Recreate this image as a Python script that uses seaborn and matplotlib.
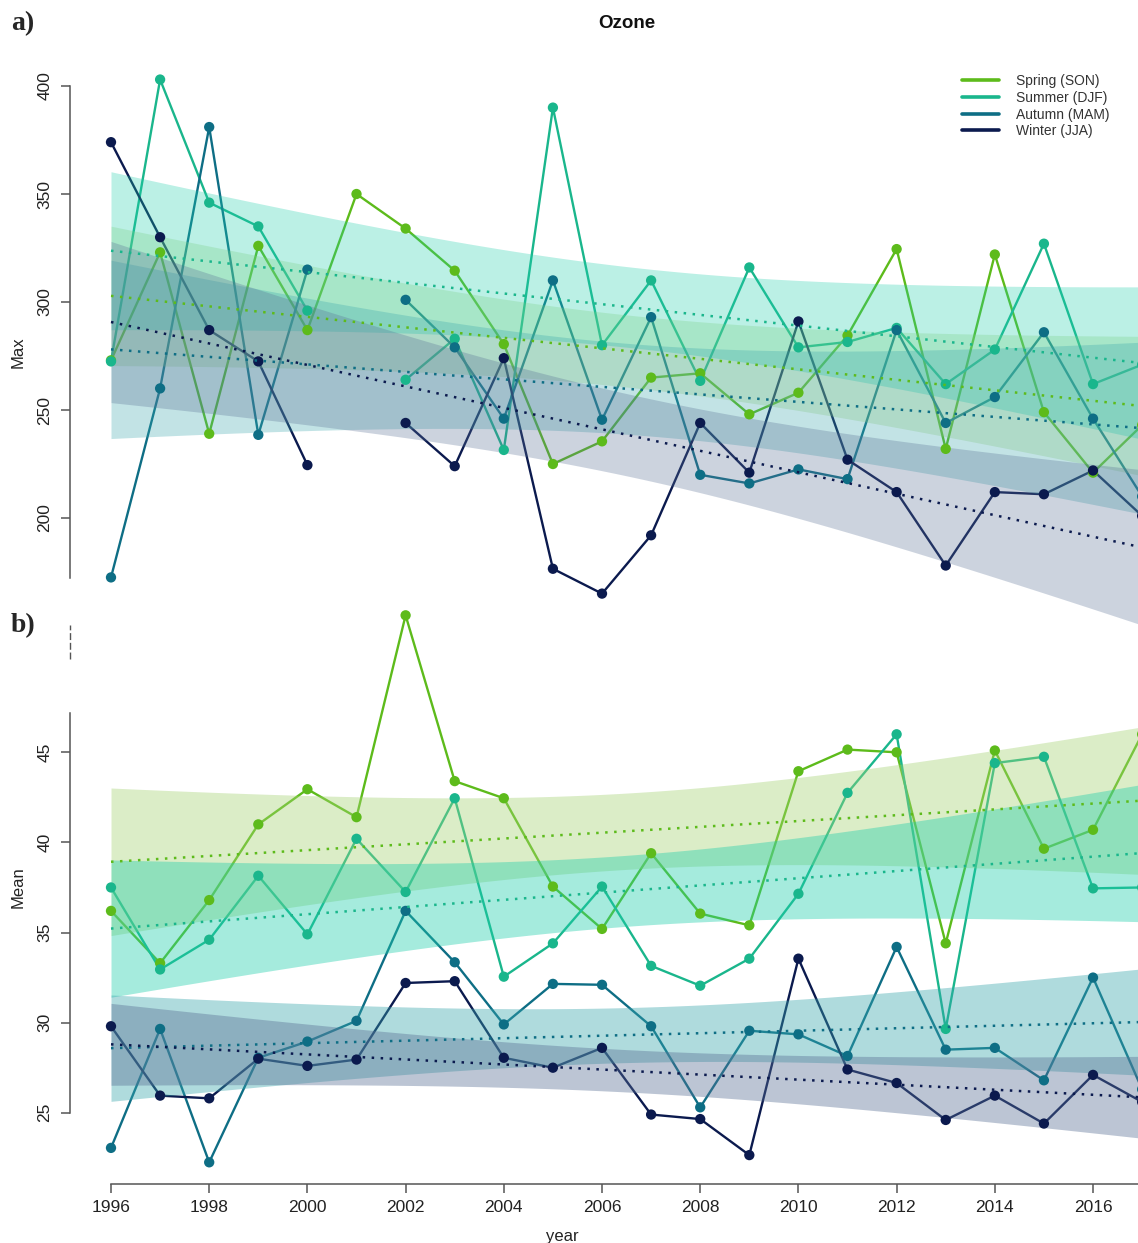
import numpy as np
import pandas as pd
import matplotlib
matplotlib.use("Agg")
import matplotlib.pyplot as plt
from matplotlib.lines import Line2D
import seaborn as sns

nan = np.nan

# ---- data -------------------------------------------------------------
years = list(range(1996, 2018))
seasons = ["Spring (SON)", "Summer (DJF)", "Autumn (MAM)", "Winter (JJA)"]

max_spring = [273, 323, 239, 326, 287, 350, 334, 314.5, 280.5, 225, 235.5,
              265, 267, 248, 258, 284.5, 324.5, 232, 322, 249, 221, 243]
max_summer = [272.5, 403, 346, 335, 296, nan, 264, 283, 231.5, 390, 280,
              310, 263.5, 316, 279, 281.5, 288, 262, 278, 327, 262, 271]
max_autumn = [172.5, 260, 381, 238.5, 315, nan, 301, 279, 246, 310, 245.5,
              293, 220, 216, 222.5, 218, 287, 244, 256, 286, 246, 210]
max_winter = [374, 330, 287, 272.5, 224.5, nan, 244, 224, 274, 176.5, 165,
              192, 244, 221, 291, 227, 212, 178, 212, 211, 222, 201]

mean_spring = [36.2, 33.3, 36.8, 41.0, 42.95, 41.4, 52.6, 43.4, 42.45, 37.55, 35.2,
               39.4, 36.05, 35.4, 43.95, 45.15, 45.0, 34.4, 45.1, 39.65, 40.7, 46.0]
mean_summer = [37.5, 32.95, 34.6, 38.15, 34.9, 40.2, 37.25, 42.45, 32.55, 34.4, 37.55,
               33.15, 32.05, 33.55, 37.15, 42.75, 46.0, 29.65, 44.4, 44.75, 37.45, 37.5]
mean_autumn = [23.05, 29.65, 22.25, 28.05, 28.95, 30.1, 36.2, 33.35, 29.9, 32.15, 32.1,
               29.8, 25.3, 29.55, 29.35, 28.15, 34.2, 28.5, 28.6, 26.8, 32.5, 26.3]
mean_winter = [29.8, 25.95, 25.8, 28.0, 27.6, 27.95, 32.2, 32.3, 28.05, 27.5, 28.6,
               24.9, 24.65, 22.65, 33.55, 27.4, 26.65, 24.6, 25.95, 24.4, 27.1, 25.6]

x_ticks = list(range(1996, 2017, 2))
max_ticks = [200, 250, 300, 350, 400]
mean_ticks = [25, 30, 35, 40, 45]

# ---- styling ----------------------------------------------------------
line_colors = {"Spring (SON)": "#5DBB1B", "Summer (DJF)": "#1AB68C",
               "Autumn (MAM)": "#0E6E85", "Winter (JJA)": "#0B1A4E"}
band_colors = {"Spring (SON)": "#A5D275", "Summer (DJF)": "#1ECEAA",
               "Autumn (MAM)": "#37A5AC", "Winter (JJA)": "#586F94"}
T95 = {17: 2.110, 18: 2.101, 19: 2.093, 20: 2.086}

sns.set_theme(style="ticks")
plt.rcParams["font.family"] = ["Liberation Sans", "DejaVu Sans"]

W, H = 1138, 1243
fig = plt.figure(figsize=(W / 100, H / 100), dpi=100)


def long_frame(series):
    rows = []
    for season, vals in zip(seasons, series):
        run = 0
        for yr, v in zip(years, vals):
            if np.isnan(v):
                run += 1
                continue
            rows.append({"year": yr, "season": season, "value": v,
                         "run": f"{season}-{run}"})
    return pd.DataFrame(rows)


def draw_panel(ax, df, band_alpha):
    # observed series: lines, then trend bands, then points on top
    sns.lineplot(data=df, x="year", y="value", hue="season", units="run",
                 estimator=None, palette=line_colors, hue_order=seasons,
                 linewidth=1.7, legend=False, ax=ax, zorder=2)
    xs = np.linspace(1996, 2017, 300)
    for season in seasons:
        sub = df[df["season"] == season]
        x = sub["year"].to_numpy(float)
        y = sub["value"].to_numpy(float)
        n = len(x)
        b, a = np.polyfit(x, y, 1)
        resid = y - (a + b * x)
        s = np.sqrt(np.sum(resid ** 2) / (n - 2))
        xbar = x.mean()
        sxx = np.sum((x - xbar) ** 2)
        fit = a + b * xs
        half = T95[n - 2] * s * np.sqrt(1 / n + (xs - xbar) ** 2 / sxx)
        ax.fill_between(xs, fit - half, fit + half, color=band_colors[season],
                        alpha=band_alpha, linewidth=0, zorder=3)
        ax.plot(xs, fit, color=line_colors[season], linewidth=1.8,
                dashes=(1.0, 2.6), zorder=5)
    sns.scatterplot(data=df, x="year", y="value", hue="season",
                    palette=line_colors, hue_order=seasons, s=55, linewidth=0,
                    legend=False, ax=ax, zorder=4)


# ---- panel a : Max ----------------------------------------------------
xlim = (1995.165, 2016.916)
ax1 = fig.add_axes([70 / W, 1 - 640 / H, 1068 / W, 600 / H])
ax1.patch.set_alpha(0)
draw_panel(ax1, long_frame([max_spring, max_summer, max_autumn, max_winter]), 0.30)
ax1.set_xlim(*xlim)
ax1.set_ylim(143.52, 421.3)
ax1.set_yticks(max_ticks)
ax1.set_xticks([])
for sp in ["top", "right", "bottom"]:
    ax1.spines[sp].set_visible(False)
ax1.spines["left"].set_bounds(172.4, 400)

# ---- panel b : Mean ---------------------------------------------------
ax2 = fig.add_axes([70 / W, 1 - 1184.3 / H, 1068 / W, 584.3 / H])
ax2.patch.set_alpha(0)
draw_panel(ax2, long_frame([mean_spring, mean_summer, mean_autumn, mean_winter]), 0.40)
ax2.set_xlim(*xlim)
ax2.set_ylim(21.03, 53.45)
ax2.set_yticks(mean_ticks)
ax2.set_xticks(x_ticks)
for sp in ["top", "right"]:
    ax2.spines[sp].set_visible(False)
ax2.spines["left"].set_bounds(25, 47.18)
ax2.spines["bottom"].set_bounds(1996, 2017.84)
# short dashed piece of the axis above the break
ax2.plot([xlim[0], xlim[0]], [50.18, 52.06], color="#555555", linewidth=1.0,
         dashes=(5, 2), clip_on=False, zorder=6)

for ax in (ax1, ax2):
    ax.set_xlabel("")
    ax.set_ylabel("")
    for sp in ax.spines.values():
        sp.set_color("#555555")
        sp.set_linewidth(1.1)
    ax.tick_params(axis="both", direction="out", length=6.2, width=1.1,
                   color="#555555", labelsize=12.5, labelcolor="#222222")
    ax.tick_params(axis="y", pad=6.5)
    ax.tick_params(axis="x", pad=5)
    for lab in ax.get_yticklabels():
        lab.set_rotation(90)
        lab.set_va("center")

# ---- text -------------------------------------------------------------
fig.text(627 / W, 1 - 23 / H, "Ozone", ha="center", va="center",
         fontsize=13.5, fontweight="bold", color="#111111")
fig.text(11 / W, 1 - 24 / H, "a)", ha="left", va="center", fontsize=20,
         fontweight="bold", family=["Liberation Serif", "DejaVu Serif"])
fig.text(11 / W, 1 - 626 / H, "b)", ha="left", va="center", fontsize=20,
         fontweight="bold", family=["Liberation Serif", "DejaVu Serif"])
fig.text(18 / W, 1 - 352 / H, "Max", rotation=90, ha="center", va="center",
         fontsize=12, color="#222222")
fig.text(18 / W, 1 - 887 / H, "Mean", rotation=90, ha="center", va="center",
         fontsize=12, color="#222222")
fig.text(562 / W, 1 - 1236 / H, "year", ha="center", va="center",
         fontsize=12, color="#222222")

handles = [Line2D([0], [0], color=line_colors[s], linewidth=2.6) for s in seasons]
fig.legend(handles, seasons, loc="upper left",
           bbox_to_anchor=(962 / W, 1 - 74 / H), frameon=False, fontsize=10,
           handlelength=2.66, handletextpad=1.2, labelspacing=0.2,
           borderpad=0, borderaxespad=0, labelcolor="#333333")

fig.savefig("out.png", dpi=100)
